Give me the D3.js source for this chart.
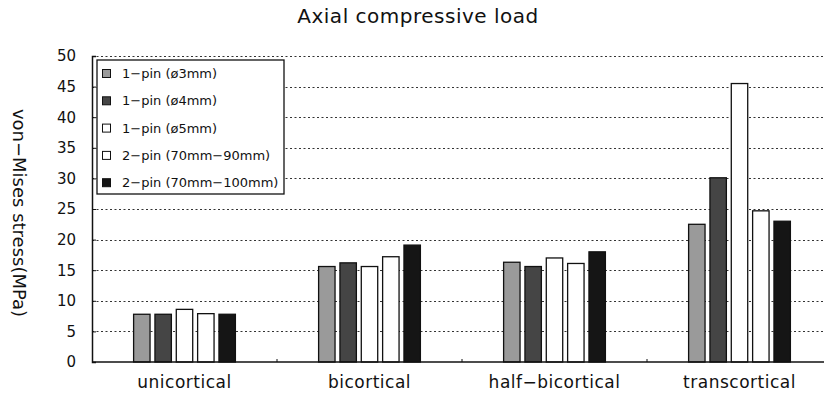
<!DOCTYPE html>
<html lang="en">
<head>
<meta charset="utf-8">
<title>Axial compressive load</title>
<script src="https://cdn.jsdelivr.net/npm/d3@7"></script>
<style>
  body { margin: 0; background: #fff; }
  text { font-family: "DejaVu Sans", sans-serif; fill: #111; }
</style>
</head>
<body>
<script>
// data
var categories = ["unicortical", "bicortical", "half\u2212bicortical", "transcortical"];
var seriesNames = ["1\u2212pin (\u00f83mm)", "1\u2212pin (\u00f84mm)", "1\u2212pin (\u00f85mm)",
                   "2\u2212pin (70mm\u221290mm)", "2\u2212pin (70mm\u2212100mm)"];
var pin3 = [7.8, 15.6, 16.3, 22.5];
var pin4 = [7.8, 16.2, 15.6, 30.1];
var pin5 = [8.6, 15.6, 17.0, 45.5];
var pin2a = [7.9, 17.2, 16.1, 24.7];
var pin2b = [7.8, 19.1, 18.0, 23.0];
var yTicks = [0, 5, 10, 15, 20, 25, 30, 35, 40, 45, 50];
var colors = ["#9a9a9a", "#454545", "#ffffff", "#ffffff", "#151515"];

var series = [pin3, pin4, pin5, pin2a, pin2b];

var w = 824, h = 396;
var margin = {left: 92, top: 56, bottom: 34};

var svg = d3.select("body").append("svg")
    .attr("width", w).attr("height", h);

var x0 = d3.scaleBand().domain(categories).range([margin.left, margin.left + 740]);
var x1 = d3.scaleBand().domain(d3.range(series.length))
    .range([0, x0.bandwidth()]).paddingInner(0.23).paddingOuter(1.95);
var y = d3.scaleLinear().domain([0, 50]).range([h - margin.bottom, margin.top]);

// dotted grid
svg.append("g").selectAll("line")
  .data(yTicks.filter(function(d) { return d > 0; }))
  .enter().append("line")
    .attr("x1", margin.left).attr("x2", w)
    .attr("y1", function(d) { return Math.round(y(d)) + 0.5; })
    .attr("y2", function(d) { return Math.round(y(d)) + 0.5; })
    .attr("stroke", "#333")
    .attr("stroke-width", 1.2)
    .attr("stroke-dasharray", "2,2.5");

// bars
var groups = svg.append("g").selectAll("g")
  .data(categories).enter().append("g")
    .attr("transform", function(d) { return "translate(" + x0(d) + ",0)"; });

groups.selectAll("rect")
  .data(function(d, i) { return series.map(function(s, k) { return {k: k, v: s[i]}; }); })
  .enter().append("rect")
    .attr("x", function(d) { return x1(d.k); })
    .attr("width", x1.bandwidth())
    .attr("y", function(d) { return y(d.v); })
    .attr("height", function(d) { return y(0) - y(d.v); })
    .attr("fill", function(d) { return colors[d.k]; })
    .attr("stroke", "#111")
    .attr("stroke-width", 1.3);

// y axis
var yAxis = svg.append("g")
    .attr("transform", "translate(" + margin.left + ",0)")
    .call(d3.axisRight(y).tickValues(yTicks).tickSize(4).tickFormat(""));
yAxis.select(".domain").attr("stroke", "#111").attr("stroke-width", 1.5);
yAxis.selectAll(".tick line").attr("stroke", "#111");

svg.append("g").selectAll("text")
  .data(yTicks).enter().append("text")
    .attr("x", 76).attr("y", function(d) { return y(d); })
    .attr("dy", "0.36em")
    .attr("text-anchor", "end")
    .style("font-size", "15px")
    .text(function(d) { return d; });

// x axis
var xAxis = svg.append("g")
    .attr("transform", "translate(0," + y(0) + ")")
    .call(d3.axisTop(x0).tickSize(0).tickFormat(""));
xAxis.select(".domain").attr("d", "M" + margin.left + ",0H" + w)
    .attr("stroke", "#111").attr("stroke-width", 1.5);
// small separators between groups
svg.append("g").selectAll("line")
  .data(categories.slice(1)).enter().append("line")
    .attr("x1", function(d) { return x0(d); }).attr("x2", function(d) { return x0(d); })
    .attr("y1", y(0)).attr("y2", y(0) - 3)
    .attr("stroke", "#111");

svg.append("g").selectAll("text")
  .data(categories).enter().append("text")
    .attr("x", function(d) { return x0(d) + x0.bandwidth() / 2; })
    .attr("y", 388)
    .attr("text-anchor", "middle")
    .style("font-size", "17px")
    .style("letter-spacing", "0.5px")
    .text(function(d) { return d; });

// title
svg.append("text")
    .attr("x", 418).attr("y", 23)
    .attr("text-anchor", "middle")
    .style("font-size", "20px")
    .style("letter-spacing", "0.5px")
    .text("Axial compressive load");

// y label
svg.append("text")
    .attr("transform", "translate(13,213) rotate(90)")
    .attr("text-anchor", "middle")
    .style("font-size", "18px")
    .text("von\u2212Mises stress(MPa)");

// legend
var legend = svg.append("g").attr("transform", "translate(97,60)");
legend.append("rect")
    .attr("width", 187).attr("height", 134)
    .attr("fill", "#fff").attr("stroke", "#111").attr("stroke-width", 1.3);
var items = legend.selectAll("g.item")
  .data(seriesNames).enter().append("g")
    .attr("transform", function(d, i) { return "translate(0," + (13.5 + i * 27.3) + ")"; });
items.append("rect")
    .attr("x", 5.5).attr("y", -4).attr("width", 8).attr("height", 8)
    .attr("fill", function(d, i) { return colors[i]; })
    .attr("stroke", "#111").attr("stroke-width", 1);
items.append("text")
    .attr("x", 25).attr("dy", "0.36em")
    .style("font-size", "13px")
    .text(function(d) { return d; });
</script>
</body>
</html>
